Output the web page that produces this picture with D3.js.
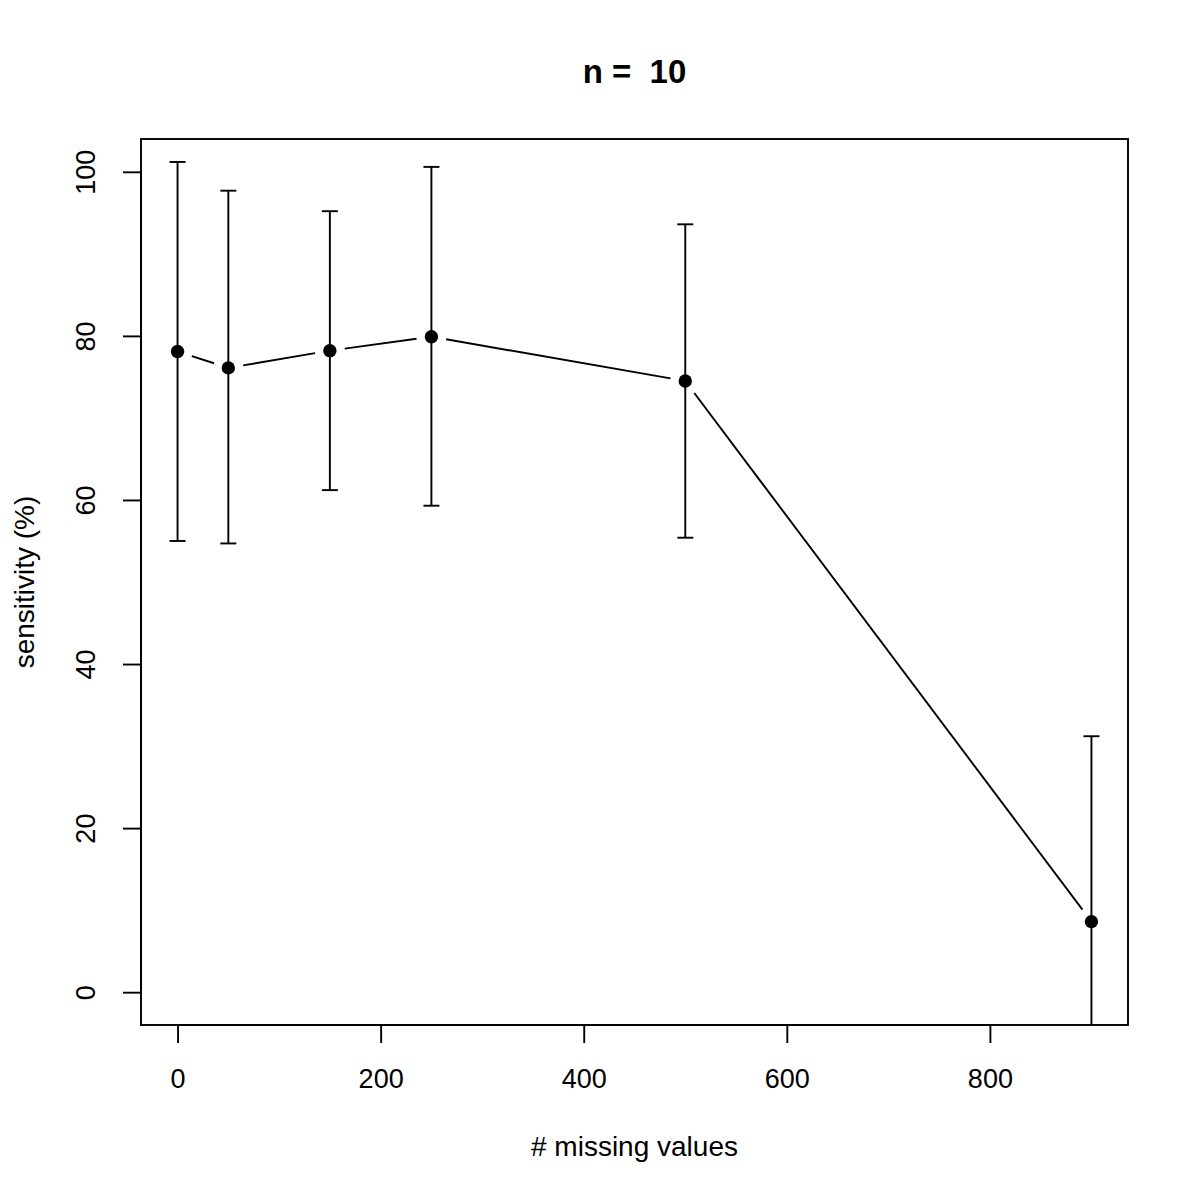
<!DOCTYPE html>
<html><head><meta charset="utf-8">
<script src="https://cdn.jsdelivr.net/npm/d3@7"></script>
<style>body{margin:0;background:#fff}svg{display:block}text{font-family:"Liberation Sans",Arial,Helvetica,sans-serif}</style>
</head><body>
<script>
const missing = [0, 50, 150, 250, 500, 900];
const sensitivity = [78.1, 76.1, 78.2, 79.9, 74.5, 8.6];
const upper = [101.2, 97.7, 95.2, 100.6, 93.6, 31.2];
const lower = [55.0, 54.7, 61.2, 59.3, 55.4, -14.0];
const xTicks = [0, 200, 400, 600, 800];
const yTicks = [0, 20, 40, 60, 80, 100];

const W = 1200, H = 1200;
const L = 141, R = 1128, T = 139, B = 1025;
const svg = d3.select("body").append("svg").attr("width", W).attr("height", H);
const x = d3.scaleLinear().domain([-36, 936]).range([L, R]);
const y = d3.scaleLinear().domain([-4, 104]).range([B, T]);

svg.append("defs").append("clipPath").attr("id","clip")
  .append("rect").attr("x",L).attr("y",T).attr("width",R-L).attr("height",B-T);

const g = svg.append("g").attr("clip-path","url(#clip)");
const data = missing.map((m,i)=>({m, s:sensitivity[i], u:upper[i], l:lower[i]}));

// line segments with gaps (type = "b")
const gap = 15;
for (let i=0;i<data.length-1;i++){
  const x1=x(data[i].m), y1=y(data[i].s), x2=x(data[i+1].m), y2=y(data[i+1].s);
  const dx=x2-x1, dy=y2-y1, len=Math.hypot(dx,dy);
  if (len <= 2*gap) continue;
  const ux=dx/len, uy=dy/len;
  g.append("line").attr("x1",x1+ux*gap).attr("y1",y1+uy*gap)
    .attr("x2",x2-ux*gap).attr("y2",y2-uy*gap)
    .attr("stroke","#000").attr("stroke-width",1.9);
}
// error bars
const cap = 8;
data.forEach(d=>{
  g.append("line").attr("x1",x(d.m)).attr("x2",x(d.m)).attr("y1",y(d.l)).attr("y2",y(d.u))
    .attr("stroke","#000").attr("stroke-width",1.9);
  [d.u,d.l].forEach(v=>{
    g.append("line").attr("x1",x(d.m)-cap).attr("x2",x(d.m)+cap).attr("y1",y(v)).attr("y2",y(v))
      .attr("stroke","#000").attr("stroke-width",1.9);
  });
});
g.selectAll("circle").data(data).enter().append("circle")
  .attr("cx",d=>x(d.m)).attr("cy",d=>y(d.s)).attr("r",6.7).attr("fill","#000");

// box
svg.append("rect").attr("x",L).attr("y",T).attr("width",R-L).attr("height",B-T)
  .attr("fill","none").attr("stroke","#000").attr("stroke-width",1.9);

const FONT = '"Liberation Sans",Arial,sans-serif';
// axes
const xAxis = d3.axisBottom(x).tickValues(xTicks).tickSize(18).tickPadding(26).tickFormat(d3.format("d"));
const xg = svg.append("g").attr("transform",`translate(0,${B})`).call(xAxis);
xg.select(".domain").attr("d",`M${x(0)},0H${x(800)}`).attr("stroke-width",1.9);
xg.selectAll(".tick line").attr("stroke-width",1.9);
xg.selectAll("text").attr("font-size",27).attr("fill","#000").attr("font-family",FONT);

const yAxis = d3.axisLeft(y).tickValues(yTicks).tickSize(18).tickFormat(d3.format("d"));
const yg = svg.append("g").attr("transform",`translate(${L},0)`).call(yAxis);
yg.select(".domain").attr("d",`M0,${y(0)}V${y(100)}`).attr("stroke-width",1.9);
yg.selectAll(".tick line").attr("stroke-width",1.9);
yg.selectAll(".tick text").attr("font-size",27).attr("fill","#000").attr("font-family",FONT)
  .attr("text-anchor","middle").attr("dy",0).attr("dominant-baseline","middle")
  .attr("transform","rotate(-90)").attr("x",0).attr("y",-53);

svg.append("text").attr("x",(L+R)/2).attr("y",1156).attr("text-anchor","middle")
  .attr("font-size",28).text("# missing values");
svg.append("text").attr("transform",`translate(34,${(T+B)/2}) rotate(-90)`).attr("text-anchor","middle")
  .attr("font-size",28).text("sensitivity (%)");
svg.append("text").attr("x",(L+R)/2).attr("y",83).attr("text-anchor","middle")
  .attr("font-size",33).attr("font-weight","bold").style("white-space","pre").text("n =  10");
</script>
</body></html>
